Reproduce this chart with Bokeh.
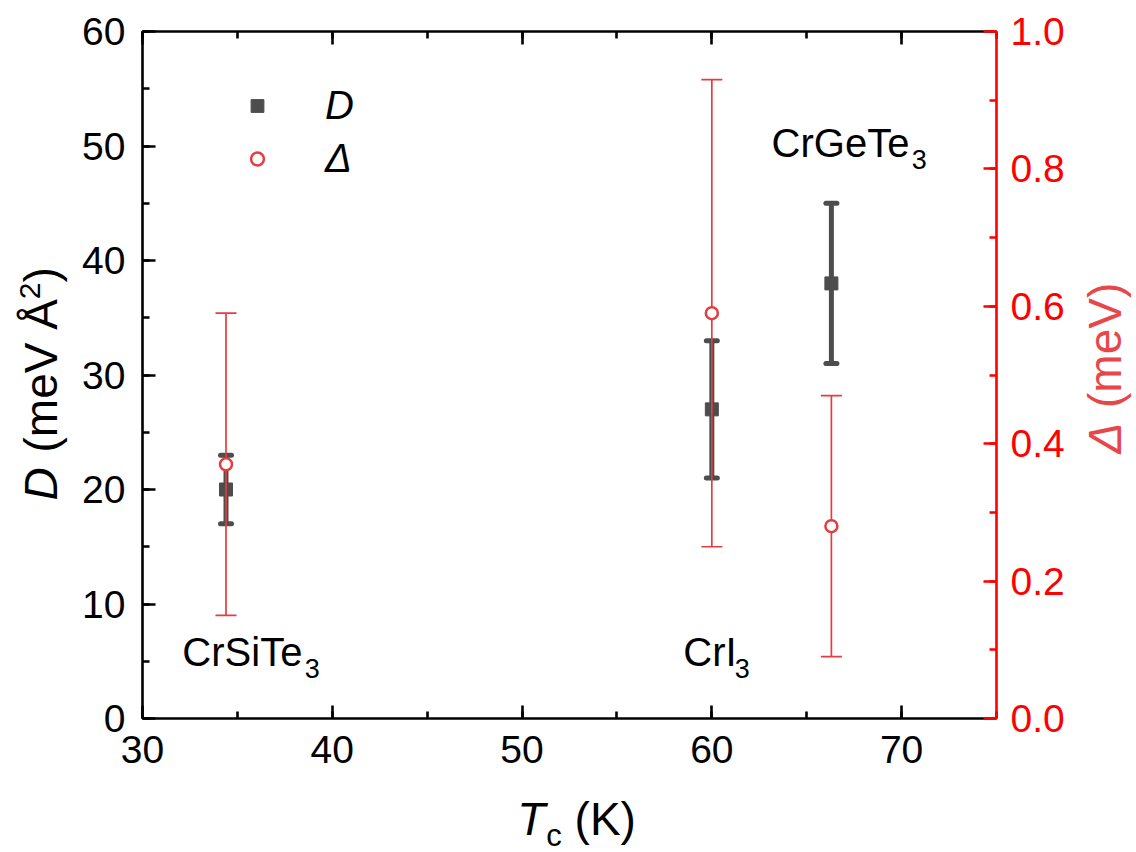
import math
import numpy as np
from bokeh.plotting import figure
from bokeh.layouts import row, column
from bokeh.models import (Range1d, LinearAxis, SingleIntervalTicker, PrintfTickFormatter,
                          Label, Legend, LegendItem, CustomLabelingPolicy)
from bokeh.embed import file_html
from bokeh.resources import INLINE

# ---------------- data ----------------
materials = ["CrSiTe", "CrI", "CrGeTe"]
material_sub = ["3", "3", "3"]
tc = [34.4, 60.0, 66.3]
D = [20.0, 27.0, 38.0]
D_err = [3.0, 6.0, 7.0]
delta = [0.37, 0.59, 0.28]
delta_err = [0.22, 0.34, 0.19]
x_ticks = [30, 40, 50, 60, 70]
yD_ticks = [0, 10, 20, 30, 40, 50, 60]
yDelta_ticks = [0.0, 0.2, 0.4, 0.6, 0.8, 1.0]

# annotation anchors (data coords of left/baseline of each material label)
label_x = [32.1, 58.5, 63.15]
label_y = [4.45, 4.45, 48.9]

# ---------------- style ----------------
FONT = "Liberation Sans"
TICK_FS = 39
ANN_FS = 40
TITLE_FS = 46
GRAY = "#4d4d4d"
RED_MARK = "#e43d40"
RED_AX = "#ff0000"
RED_TITLE = "#e8474a"
BASE_COMP = 0.38   # label anchor -> alphabetic baseline correction (em)

PAGE_W, PAGE_H = 1136, 852
LEFT_W, RIGHT_W, BOTTOM_H = 70, 56, 62
W, H = PAGE_W - LEFT_W - RIGHT_W, PAGE_H - BOTTOM_H
FL, FT, FW, FH = 142, 31, 854, 687          # frame, in page pixels
BL = FL - LEFT_W
BT = FT
BR = W - BL - FW
BB = H - BT - FH
X0, X1, Y0, Y1 = 30, 75, 0, 60

p = figure(width=W, height=H, x_range=Range1d(X0, X1), y_range=Range1d(Y0, Y1),
           output_backend="svg", toolbar_location=None,
           min_border_left=BL, min_border_right=BR, min_border_top=BT, min_border_bottom=BB)
p.extra_y_ranges = {"delta": Range1d(0, 1)}
p.outline_line_color = None
p.grid.visible = False
p.background_fill_color = "white"
p.border_fill_color = "white"


def style_axis(ax, color="black"):
    ax.axis_line_width = 2.6
    ax.axis_line_color = color
    ax.major_tick_line_width = 2.6
    ax.minor_tick_line_width = 2.6
    ax.major_tick_line_color = color
    ax.minor_tick_line_color = color
    ax.major_tick_in = 13
    ax.major_tick_out = 0
    ax.minor_tick_in = 7
    ax.minor_tick_out = 0
    ax.major_label_text_font = FONT
    ax.major_label_text_font_size = f"{TICK_FS}px"
    ax.major_label_text_color = color
    ax.axis_label = None


xax = p.xaxis[0]
xax.ticker = SingleIntervalTicker(interval=10, num_minor_ticks=2)
style_axis(xax)
xax.major_label_standoff = 17

yax = p.yaxis[0]
yax.ticker = SingleIntervalTicker(interval=10, num_minor_ticks=2)
style_axis(yax)
yax.major_label_standoff = 17

top = LinearAxis(ticker=SingleIntervalTicker(interval=10, num_minor_ticks=2),
                 major_label_policy=CustomLabelingPolicy(
                     code="for (const i of indices) { if (i < 0) { yield i } }"))
style_axis(top)
top.major_label_standoff = 0
p.add_layout(top, "above")

rax = LinearAxis(y_range_name="delta", ticker=SingleIntervalTicker(interval=0.2, num_minor_ticks=2),
                 formatter=PrintfTickFormatter(format="%.1f"))
style_axis(rax, RED_AX)
rax.major_label_standoff = 14
p.add_layout(rax, "right")

# ---------------- marks ----------------
tc_a = np.array(tc)
D_lo = np.array(D) - np.array(D_err)
D_hi = np.array(D) + np.array(D_err)
d_lo = np.array(delta) - np.array(delta_err)
d_hi = np.array(delta) + np.array(delta_err)

p.segment(x0=tc_a, y0=D_lo, x1=tc_a, y1=D_hi, line_color=GRAY, line_width=5)
p.scatter(x=np.concatenate([tc_a, tc_a]), y=np.concatenate([D_lo, D_hi]), marker="dash",
          size=11, line_color=GRAY, line_width=5, line_cap="round")
sq = p.scatter(x=tc, y=D, marker="square", size=13, fill_color=GRAY, line_color=GRAY, line_width=1)

p.segment(x0=tc_a, y0=d_lo, x1=tc_a, y1=d_hi, line_color=RED_MARK, line_width=1.7,
          y_range_name="delta")
p.scatter(x=np.concatenate([tc_a, tc_a]), y=np.concatenate([d_lo, d_hi]), marker="dash",
          size=21, line_color=RED_MARK, line_width=1.7, y_range_name="delta")
ci = p.scatter(x=tc, y=delta, marker="circle", size=12, fill_color="white", line_color=RED_MARK,
               line_width=2.5, y_range_name="delta")

# ---------------- legend ----------------
leg = Legend(items=[LegendItem(label="D", renderers=[sq]), LegendItem(label="Δ", renderers=[ci])],
             location=(99, 537), glyph_width=32, glyph_height=45, label_height=45, spacing=8,
             padding=0, margin=0, label_standoff=52, border_line_alpha=0, background_fill_alpha=0,
             label_text_font=FONT, label_text_font_size=f"{ANN_FS}px", label_text_font_style="italic",
             label_text_color="black")
p.add_layout(leg)

# ---------------- text helpers ----------------
ARIAL = {"D": .722, " ": .278, "(": .333, ")": .333, "m": .833, "e": .556, "V": .667, "Å": .667,
         "2": .556, "3": .556, "Δ": .668, "T": .611, "c": .5, "K": .667, "C": .722, "r": .333,
         "S": .667, "i": .222, "I": .278, "G": .778}


def tw(s, fs):
    return sum(ARIAL.get(ch, .556) for ch in s) * fs


# material names with subscripts
SUB_FS = 27
for name, sub, lx, ly in zip(materials, material_sub, label_x, label_y):
    p.add_layout(Label(x=lx, y=ly, text=name, text_font=FONT, text_font_size=f"{ANN_FS}px",
                       text_baseline="alphabetic", text_color="black",
                       y_offset=BASE_COMP * ANN_FS))
    p.add_layout(Label(x=lx, y=ly, text=sub, text_font=FONT, text_font_size=f"{SUB_FS}px",
                       text_baseline="alphabetic", text_color="black",
                       x_offset=tw(name, ANN_FS) - 2, y_offset=-11 + BASE_COMP * SUB_FS))


# ---------------- title strips (separate small figures) ----------------
def strip(w, h, bt=0, bb=0):
    f = figure(width=w, height=h, x_range=Range1d(0, w), y_range=Range1d(0, h), title=None,
               x_axis_type=None, y_axis_type=None, output_backend="svg", toolbar_location=None,
               min_border=0, min_border_left=0, min_border_right=0, min_border_top=bt,
               min_border_bottom=bb)
    f.outline_line_color = None
    f.grid.visible = False
    f.background_fill_color = "white"
    f.border_fill_color = "white"
    return f


def put(f, ox, frame_bottom, px, py, text, fs, color="black", style="normal", angle=0.0):
    # px, py: page pixels of the text's left end on its baseline;
    # ox: page x of the strip's left edge; frame_bottom: page y of the strip frame's bottom
    if angle:
        px -= BASE_COMP * fs
    else:
        py -= BASE_COMP * fs
    f.add_layout(Label(x=px - ox, y=frame_bottom - py, x_units="screen", y_units="screen",
                       text=text, angle=angle, text_font=FONT, text_font_size=f"{fs}px",
                       text_color=color, text_font_style=style, text_align="left",
                       text_baseline="alphabetic"))


a = math.pi / 2
SP = tw(" ", TITLE_FS)
FB = FT + FH   # page y of the main frame bottom (side strips share the frame rows)

# left title: D (meV Å^2)
left_f = strip(LEFT_W, H, BT, BB)
lx_base, y = 58, 500
put(left_f, 0, FB, lx_base, y, "D", TITLE_FS, style="italic", angle=a)
y -= tw("D", TITLE_FS) + 2 + SP
put(left_f, 0, FB, lx_base, y, "(meV Å", TITLE_FS, angle=a)
y -= tw("(meV Å", TITLE_FS)
put(left_f, 0, FB, lx_base - 17, y, "2", 30, angle=a)
y -= tw("2", 30)
put(left_f, 0, FB, lx_base, y, ")", TITLE_FS, angle=a)

# right title: Δ (meV)
right_f = strip(RIGHT_W, H, BT, BB)
rox = PAGE_W - RIGHT_W
rx_base, y = 1122, 453
put(right_f, rox, FB, rx_base, y, "Δ", TITLE_FS, color=RED_TITLE, style="italic", angle=a)
y -= tw("Δ", TITLE_FS) + 2 + SP
put(right_f, rox, FB, rx_base, y, "(meV)", TITLE_FS, color=RED_TITLE, angle=a)

# bottom title: T_c (K)
bottom_f = strip(PAGE_W, BOTTOM_H)
bx, bb = 516.7, 836
put(bottom_f, 0, PAGE_H, bx, bb, "T", TITLE_FS, style="italic")
put(bottom_f, 0, PAGE_H, bx + tw("T", TITLE_FS) + 1, bb + 11, "c", 31)
put(bottom_f, 0, PAGE_H, bx + tw("T", TITLE_FS) + 1 + tw("c", 31) + SP, bb, "(K)", TITLE_FS)

layout = column(row(left_f, p, right_f, spacing=0), bottom_f, spacing=0)

open("out.html", "w").write(file_html(layout, INLINE))
